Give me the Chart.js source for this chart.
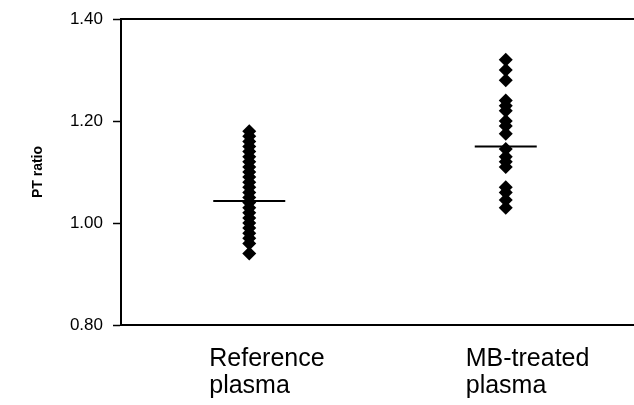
<!DOCTYPE html>
<html>
<head>
<meta charset="utf-8">
<script src="https://cdn.jsdelivr.net/npm/chart.js@4/dist/chart.umd.min.js"></script>
<style>
  html, body { margin: 0; padding: 0; background: #fff; }
  #wrap { width: 634px; height: 405px; }
</style>
</head>
<body>
<div id="wrap"><canvas id="chartPT"></canvas></div>
<script>
// PT ratio, plasma de referencia vs plasma tratado con MB

const categories = [["Reference", "plasma"], ["MB-treated", "plasma"]];

const referencePT = [1.18, 1.17, 1.16, 1.15, 1.14, 1.13, 1.12, 1.11, 1.10, 1.09,
  1.08, 1.07, 1.06, 1.05, 1.04, 1.03, 1.02, 1.01, 1.00, 0.99, 0.98, 0.97, 0.96, 0.94];

const mbTreatedPT = [1.32, 1.30, 1.28, 1.24, 1.23, 1.22, 1.20, 1.19, 1.175,
  1.145, 1.13, 1.12, 1.11, 1.07, 1.06, 1.045, 1.03];

const meanPT = [1.043, 1.15];

const yTicks = [0.80, 1.00, 1.20, 1.40];

const black = "#000";
const fontFamily = "Liberation Sans, Arial, sans-serif";

function toPoints(cat, values) {
  return values.map((v) => ({ x: cat, y: v }));
}

// quitar el relleno automático de las escalas para fijar el área del gráfico
function noPadding(scale) {
  scale.paddingTop = 0;
  scale.paddingBottom = 0;
  scale.paddingLeft = 0;
  scale.paddingRight = 0;
}

function initChart() {
  const ctx = document.getElementById("chartPT").getContext("2d");
  const labelKeys = categories.map((c) => c.join(" "));

  return new Chart(ctx, {
    type: "scatter",
    data: {
      labels: labelKeys,
      datasets: [
        {
          label: "Reference plasma",
          data: toPoints(labelKeys[0], referencePT),
          pointStyle: "rectRot",
          pointRadius: 7,
          backgroundColor: black,
          borderColor: black,
          borderWidth: 0,
        },
        {
          label: "MB-treated plasma",
          data: toPoints(labelKeys[1], mbTreatedPT),
          pointStyle: "rectRot",
          pointRadius: 7,
          backgroundColor: black,
          borderColor: black,
          borderWidth: 0,
        },
        {
          label: "Mean",
          data: labelKeys.map((k, i) => ({ x: k, y: meanPT[i] })),
          pointStyle: "line",
          pointRadius: [36, 31],
          borderColor: black,
          borderWidth: 2,
        },
      ],
    },
    options: {
      responsive: true,
      maintainAspectRatio: false,
      animation: false,
      layout: { autoPadding: false, padding: { top: 19, right: 0, left: 0, bottom: 0 } },
      plugins: {
        legend: { display: false },
        tooltip: { enabled: false },
      },
      scales: {
        x: {
          type: "category",
          labels: labelKeys,
          offset: true,
          grid: { display: false, drawTicks: false },
          border: { display: true, color: black, width: 2 },
          ticks: {
            color: black,
            align: "start",
            labelOffset: -40,
            padding: 20,
            font: { family: fontFamily, size: 25, lineHeight: 1.1 },
            callback: (v, i) => categories[i],
          },
          afterFit: (scale) => { scale.height = 80; noPadding(scale); },
        },
        xTop: {
          type: "category",
          position: "top",
          labels: labelKeys,
          offset: true,
          grid: { display: false, drawTicks: false },
          border: { display: true, color: black, width: 2 },
          ticks: { display: false },
          afterFit: (scale) => { scale.height = 0; noPadding(scale); },
        },
        y: {
          min: 0.8,
          max: 1.4,
          afterBuildTicks: (scale) => { scale.ticks = yTicks.map((v) => ({ value: v })); },
          grid: {
            drawOnChartArea: false,
            drawTicks: true,
            tickLength: 8,
            tickColor: black,
            tickWidth: 1.5,
          },
          border: { display: true, color: black, width: 2 },
          ticks: {
            color: black,
            padding: 10,
            font: { family: fontFamily, size: 17 },
            callback: (v) => Number(v).toFixed(2),
          },
          title: {
            display: true,
            text: "PT ratio",
            color: black,
            padding: { top: 30, bottom: 0 },
            font: { family: fontFamily, size: 14, weight: "bold" },
          },
          afterFit: (scale) => { scale.width = 121; noPadding(scale); },
        },
      },
    },
  });
}

document.addEventListener("DOMContentLoaded", () => {
  initChart();
});
</script>
</body>
</html>
